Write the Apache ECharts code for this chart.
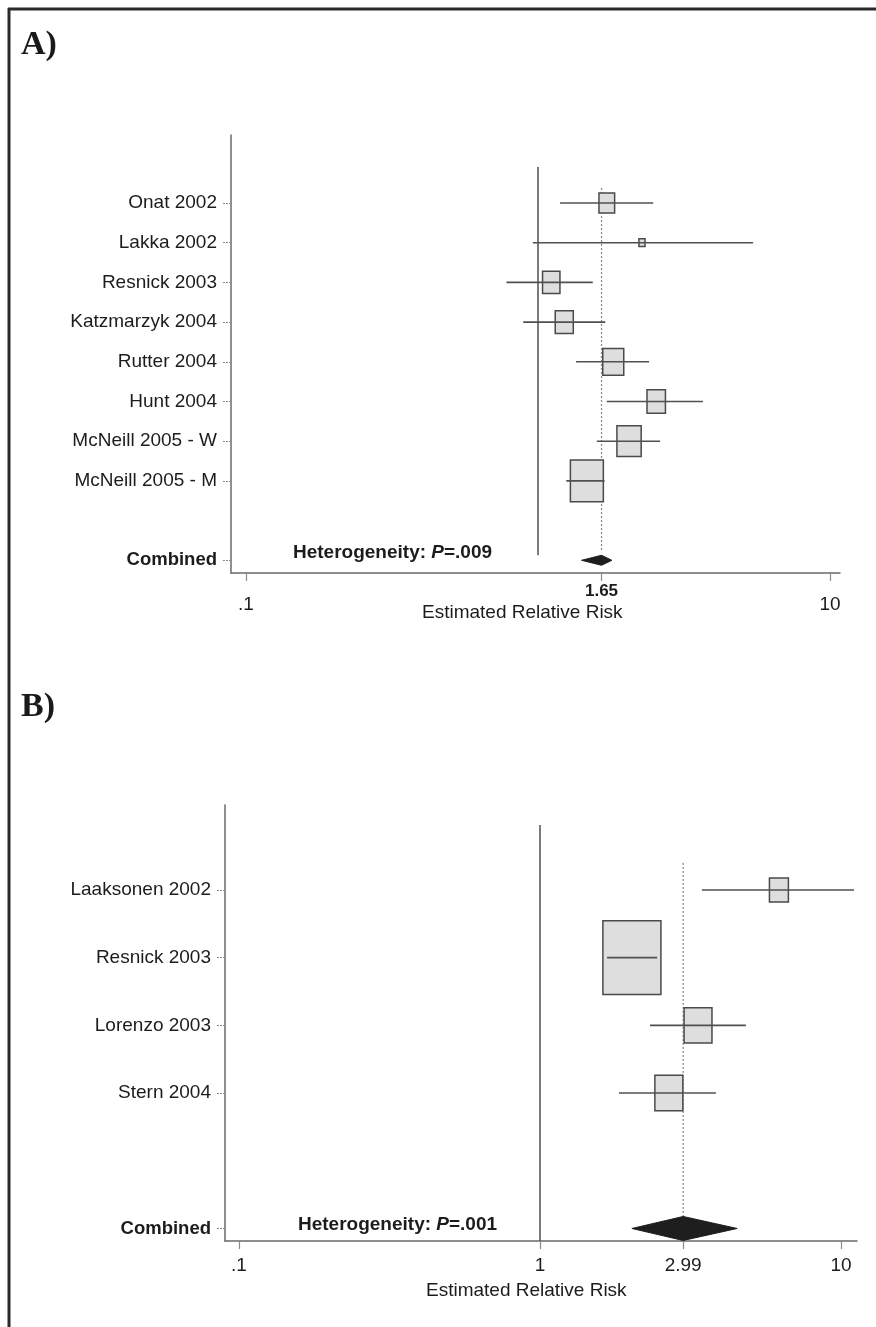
<!DOCTYPE html>
<html><head><meta charset="utf-8">
<script src="https://cdn.jsdelivr.net/npm/echarts@6/dist/echarts.min.js"></script>
<style>html,body{margin:0;padding:0;background:#fff}#c{width:876px;height:1327px}</style>
</head><body><div id="c"></div>
<script>
// ---------- Panel A data ----------
const studiesA = ['Onat 2002','Lakka 2002','Resnick 2003','Katzmarzyk 2004','Rutter 2004','Hunt 2004','McNeill 2005 - W','McNeill 2005 - M'];
const rrA     = [1.72, 2.27, 1.11, 1.23, 1.81, 2.54, 2.05, 1.47];
const lowA    = [1.19, 0.96, 0.78, 0.89, 1.35, 1.72, 1.59, 1.25];
const highA   = [2.48, 5.45, 1.54, 1.70, 2.40, 3.67, 2.62, 1.69];
const weightA = [7.3, 1.1, 9.0, 9.7, 13.1, 10.1, 17.5, 32.3];
const combinedA = [1.65, 1.41, 1.79];   // estimate, lower, upper
const hetPA = '.009';
const ticksA = [0.1, 1.65, 10];
const tickLabelsA = ['.1', '1.65', '10'];

// ---------- Panel B data ----------
const studiesB = ['Laaksonen 2002','Resnick 2003','Lorenzo 2003','Stern 2004'];
const rrB     = [6.22, 2.02, 3.35, 2.68];
const lowB    = [3.45, 1.67, 2.32, 1.83];
const highB   = [11.05, 2.45, 4.83, 3.84];
const weightB = [6.8, 63.7, 14.7, 14.8];
const combinedB = [2.99, 2.02, 4.52];
const hetPB = '.001';
const ticksB = [0.1, 1, 2.99, 10];
const tickLabelsB = ['.1', '1', '2.99', '10'];

const FONT = '"Liberation Sans", Arial, Helvetica, sans-serif';
const TXT = '#1c1c1c';
const LINE = '#5a5a5a';
const lx = v => Math.log10(v);

const chart = echarts.init(document.getElementById('c'), null, {renderer: 'canvas'});

function boxSeries(gi, studies, rr, low, high, weight, k) {
  return {
    type: 'custom', xAxisIndex: gi, yAxisIndex: gi, z: 5,
    data: studies.map((s, i) => [i, lx(rr[i]), lx(low[i]), lx(high[i]), weight[i]]),
    encode: {x: [1, 2, 3], y: 0},
    renderItem: function (params, api) {
      const y = api.value(0);
      const c = api.coord([api.value(1), y]);
      const lo = api.coord([api.value(2), y]);
      const hi = api.coord([api.value(3), y]);
      const w = k * Math.sqrt(api.value(4));
      const h = w * 1.27;
      return {type: 'group', children: [
        {type: 'rect', shape: {x: c[0] - w / 2, y: c[1] - h / 2, width: w, height: h},
          style: {fill: '#dedede', stroke: '#4a4a4a', lineWidth: 1.5}},
        {type: 'line', shape: {x1: lo[0], y1: lo[1], x2: hi[0], y2: hi[1]},
          style: {stroke: '#505050', lineWidth: 1.6}}
      ]};
    }
  };
}

function diamondSeries(gi, comb, idx, halfH) {
  return {
    type: 'custom', xAxisIndex: gi, yAxisIndex: gi, z: 6,
    data: [[idx, lx(comb[0]), lx(comb[1]), lx(comb[2])]],
    encode: {x: [1, 2, 3], y: 0},
    renderItem: function (params, api) {
      const y = api.value(0);
      const c = api.coord([api.value(1), y]);
      const lo = api.coord([api.value(2), y]);
      const hi = api.coord([api.value(3), y]);
      return {type: 'polygon', shape: {points: [[lo[0], c[1]], [c[0], c[1] - halfH], [hi[0], c[1]], [c[0], c[1] + halfH]]},
        style: {fill: '#1e1e1e', stroke: '#1e1e1e', lineWidth: 1}};
    }
  };
}

function vline(gi, xv, y1, y2, dashed) {
  return {
    type: 'line', xAxisIndex: gi, yAxisIndex: gi, z: 3, symbol: 'none', silent: true,
    data: [[lx(xv), y1], [lx(xv), y2]],
    lineStyle: dashed ? {color: '#8a8a8a', width: 1.3, type: [2, 2]} : {color: LINE, width: 1.6}
  };
}

function yAxisFor(gi, studies, min, max) {
  const n = studies.length;
  const vals = studies.map((s, i) => i).concat([n + 1]);
  return {
    type: 'value', gridIndex: gi, inverse: true, min: min, max: max,
    splitLine: {show: false},
    axisLine: {show: true, onZero: false, lineStyle: {color: '#6a6a6a', width: 1.5}},
    axisTick: {show: true, customValues: vals, length: 9, lineStyle: {color: '#8a8a8a', width: 1, type: [2, 1]}},
    axisLabel: {
      show: true, customValues: vals, margin: 14, color: TXT,
      fontFamily: FONT, fontSize: 19,
      formatter: function (v) {
        const i = Math.round(v);
        if (i === n + 1) return '{b|Combined}';
        return studies[i] || '';
      },
      rich: {b: {fontWeight: 'bold', fontFamily: FONT, fontSize: 18.5, color: TXT}}
    }
  };
}

function xAxisFor(gi, ticks, labels, min, max, boldIdx, margin, padN) {
  const vals = ticks.map(lx);
  return {
    type: 'value', gridIndex: gi, min: min, max: max,
    splitLine: {show: false},
    axisLine: {show: true, onZero: false, lineStyle: {color: '#6a6a6a', width: 1.5}},
    axisTick: {show: true, customValues: vals, length: 8, lineStyle: {color: '#8a8a8a', width: 1.2}},
    axisLabel: {
      show: true, customValues: vals, margin: margin, color: TXT,
      fontFamily: FONT, fontSize: 19,
      formatter: function (v) {
        let best = 0, bd = 1e9;
        vals.forEach((t, i) => { const d = Math.abs(t - v); if (d < bd) { bd = d; best = i; } });
        return best === boldIdx ? '{b|' + labels[best] + '}' : '{n|' + labels[best] + '}';
      },
      rich: {
        n: {fontFamily: FONT, fontSize: 19, color: TXT, padding: [padN, 0, 0, 0]},
        b: {fontFamily: FONT, fontSize: 17, fontWeight: 'bold', color: TXT, padding: [0, 0, 0, 0]}
      }
    }
  };
}

const nA = studiesA.length, nB = studiesB.length;

const option = {
  animation: false,
  backgroundColor: '#ffffff',
  grid: [
    {left: 231, top: 135, width: 609, height: 438},
    {left: 225, top: 805, width: 632, height: 436}
  ],
  xAxis: [
    xAxisFor(0, ticksA, tickLabelsA, -1.0514, 1.0342, 1, 10, 12),
    xAxisFor(1, ticksB, tickLabelsB, -1.0465, 1.0532, -1, 5, 10)
  ],
  yAxis: [
    yAxisFor(0, studiesA, -1.713, 9.32),
    yAxisFor(1, studiesB, -1.255, 5.185)
  ],
  series: [
    vline(0, 1, -0.91, 8.87, false),
    vline(0, combinedA[0], -0.38, 8.8, true),
    boxSeries(0, studiesA, rrA, lowA, highA, weightA, 5.8),
    diamondSeries(0, combinedA, nA + 1, 5),
    vline(1, 1, -0.96, 5.185, false),
    vline(1, combinedB[0], -0.4, 4.85, true),
    boxSeries(1, studiesB, rrB, lowB, highB, weightB, 7.27),
    diamondSeries(1, combinedB, nB + 1, 12)
  ],
  graphic: [
    {type: 'line', shape: {x1: 9, y1: 8, x2: 9, y2: 1327}, style: {stroke: '#2a2a2a', lineWidth: 3}},
    {type: 'line', shape: {x1: 8, y1: 9, x2: 876, y2: 9}, style: {stroke: '#2a2a2a', lineWidth: 3}},
    {type: 'text', left: 21, top: 28, style: {text: 'A)', font: 'bold 34px "Liberation Serif", "Times New Roman", serif', fill: '#1a1a1a'}},
    {type: 'text', left: 21, top: 690, style: {text: 'B)', font: 'bold 34px "Liberation Serif", "Times New Roman", serif', fill: '#1a1a1a'}},
    {type: 'text', left: 293, top: 543, style: {
      text: '{b|Heterogeneity: }{i|P}{b|=' + hetPA + '}',
      rich: {b: {font: 'bold 19px ' + FONT, fill: TXT}, i: {font: 'italic bold 19px ' + FONT, fill: TXT}}}},
    {type: 'text', left: 298, top: 1215, style: {
      text: '{b|Heterogeneity: }{i|P}{b|=' + hetPB + '}',
      rich: {b: {font: 'bold 19px ' + FONT, fill: TXT}, i: {font: 'italic bold 19px ' + FONT, fill: TXT}}}},
    {type: 'text', left: 422, top: 603, style: {text: 'Estimated Relative Risk', font: '19px ' + FONT, fill: TXT}},
    {type: 'text', left: 426, top: 1281, style: {text: 'Estimated Relative Risk', font: '19px ' + FONT, fill: TXT}}
  ]
};
chart.setOption(option);
</script>
</body></html>
